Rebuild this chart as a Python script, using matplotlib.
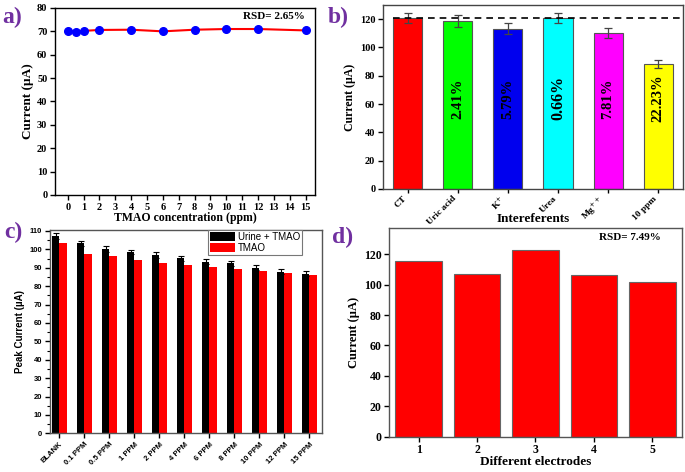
import matplotlib
matplotlib.use("Agg")
import matplotlib.pyplot as plt
import numpy as np
from matplotlib.patches import Patch
from matplotlib.ticker import MultipleLocator

# ---------------- data ----------------
# a) stability vs TMAO concentration
conc_a = [0, 0.5, 1, 2, 4, 6, 8, 10, 12, 15]
current_a = [70.3, 69.8, 70.2, 70.6, 70.7, 70.0, 70.7, 71.0, 71.0, 70.4]

# b) interferents
interf_labels = ["CT", "Uric acid", r"K$^{+}$", "Urea", r"Mg$^{++}$", "10 ppm"]
interf_current = [121, 118.8, 113.3, 121, 109.9, 88.1]
interf_err = [3.7, 4.0, 3.8, 3.7, 3.5, 2.8]
interf_pct = ["", "2.41%", "5.79%", "0.66%", "7.81%", "22.23%"]
interf_colors = ["#ff0000", "#00ff00", "#0000ee", "#00ffff", "#ff00ff", "#ffff00"]

# c) urine + TMAO vs TMAO
conc_labels_c = ["BLANK", "0.1 PPM", "0.5 PPM", "1 PPM", "2 PPM", "4 PPM",
                 "6 PPM", "8 PPM", "10 PPM", "12 PPM", "15 PPM"]
urine_tmao = [107.2, 103.3, 100.2, 98.6, 96.9, 95.1, 93.3, 92.4, 90.0, 87.9, 86.8]
urine_err = [1.5, 1.3, 1.4, 1.2, 1.4, 1.3, 1.2, 1.2, 1.3, 1.4, 1.3]
tmao_only = [103.3, 97.6, 96.3, 94.3, 92.8, 91.6, 90.3, 89.2, 88.2, 87.1, 85.8]

# d) reproducibility
electrodes = [1, 2, 3, 4, 5]
current_d = [115.2, 106.8, 122.9, 106.6, 101.8]

serif = "Liberation Serif"
sans = "Liberation Sans"
purple = "#7030a0"

fig = plt.figure(figsize=(6.85, 4.72), dpi=100)

def style_axes(ax, color="black"):
    ax.set_facecolor("none")
    for s in ax.spines.values():
        s.set_color(color)
        s.set_linewidth(1.0)
    ax.tick_params(direction="out", length=3.5, width=1.0, colors="black", pad=2)

# ---------- a ----------
ax_a = fig.add_axes([0.0803, 0.5869, 0.3796, 0.3962])
ax_a.plot(conc_a, current_a, color="#ff0000", lw=1.5, marker="o",
          markersize=5.5, markerfacecolor="#0000ff", markeredgecolor="#0000ff")
ax_a.set_xlim(-0.8, 15.6)
ax_a.set_ylim(0, 80)
ax_a.set_xticks(range(0, 16))
ax_a.set_yticks(range(0, 81, 10))
style_axes(ax_a)
for lab in ax_a.get_xticklabels() + ax_a.get_yticklabels():
    lab.set_fontfamily(serif); lab.set_fontweight("bold"); lab.set_fontsize(7.5)
ax_a.set_xlabel("TMAO concentration (ppm)", family=serif, weight="bold", fontsize=8.5)
ax_a.xaxis.set_label_coords(0.5, -0.09)
ax_a.set_ylabel("Current (µA)", family=serif, weight="bold", fontsize=9.5, labelpad=2)
ax_a.text(0.96, 0.953, "RSD= 2.65%", transform=ax_a.transAxes, ha="right", va="center",
          family=serif, weight="bold", fontsize=8)

# ---------- b ----------
ax_b = fig.add_axes([0.5591, 0.5996, 0.438, 0.3898])
xb = np.arange(len(interf_labels))
ax_b.bar(xb, interf_current, width=0.58, color=interf_colors, edgecolor="#555555", lw=0.8,
         yerr=interf_err, error_kw=dict(ecolor="#444444", elinewidth=0.9, capsize=3, capthick=0.9))
ax_b.plot([-0.29, 5.5], [121, 121], ls=(0, (4, 3)), color="black", lw=1.2)
for i, t in enumerate(interf_pct):
    if t:
        ax_b.text(xb[i], 64, t, rotation=90, ha="center", va="center", family=serif,
                  weight="bold", fontsize=11.5 if t == "0.66%" else 10.5)
ax_b.set_xlim(-0.5, 5.5)
ax_b.set_ylim(0, 130)
ax_b.set_yticks(range(0, 121, 20))
ax_b.set_xticks(xb)
ax_b.set_xticklabels(interf_labels, rotation=45, ha="right")
style_axes(ax_b, "#444444")
for lab in ax_b.get_yticklabels():
    lab.set_fontfamily(serif); lab.set_fontweight("bold"); lab.set_fontsize(7.5)
for lab in ax_b.get_xticklabels():
    lab.set_fontfamily(serif); lab.set_fontweight("bold"); lab.set_fontsize(6.8)
ax_b.tick_params(axis="x", pad=1, length=3)
ax_b.set_xlabel("Intereferents", family=serif, weight="bold", fontsize=9.5)
ax_b.xaxis.set_label_coords(0.5, -0.13)
ax_b.set_ylabel("Current (µA)", family=serif, weight="bold", fontsize=8.5, labelpad=3)

# ---------- c ----------
ax_c = fig.add_axes([0.073, 0.082, 0.3971, 0.4307])
xc = np.arange(len(conc_labels_c))
bw = 0.3
ax_c.bar(xc - bw / 2, urine_tmao, width=bw, color="black", yerr=urine_err,
         error_kw=dict(ecolor="black", elinewidth=0.8, capsize=2.5, capthick=0.8))
ax_c.bar(xc + bw / 2, tmao_only, width=bw, color="#ff0000")
ax_c.set_xlim(-0.37, 10.51)
ax_c.set_ylim(0, 110.5)
ax_c.set_yticks(range(0, 111, 10))
ax_c.yaxis.set_minor_locator(MultipleLocator(5))
ax_c.set_xticks(xc)
ax_c.set_xticklabels(conc_labels_c, rotation=45, ha="right", rotation_mode="anchor")
style_axes(ax_c, "#555555")
ax_c.tick_params(which="minor", direction="out", length=2, width=0.8)
for lab in ax_c.get_xticklabels() + ax_c.get_yticklabels():
    lab.set_fontfamily(sans); lab.set_fontweight("bold"); lab.set_fontsize(5.5)
ax_c.set_ylabel("Peak Current (µA)", family=sans, weight="bold", fontsize=7, labelpad=3)
leg = ax_c.legend(handles=[Patch(facecolor="black", label="Urine + TMAO"),
                           Patch(facecolor="#ff0000", label="TMAO")],
                  loc="upper right", bbox_to_anchor=(0.926, 1.0), borderaxespad=0,
                  prop=dict(family=sans, size=7), fancybox=False, edgecolor="#777777",
                  handlelength=2.6, handleheight=1.0, handletextpad=0.3, labelspacing=0.1,
                  borderpad=0.2, framealpha=1)
leg.get_frame().set_linewidth(0.8)

# ---------- d ----------
ax_d = fig.add_axes([0.5683, 0.0748, 0.4269, 0.4415])
ax_d.bar(electrodes, current_d, width=0.8, color="#ff0000", edgecolor="#666666", lw=0.8)
ax_d.set_xlim(0.5, 5.5)
ax_d.set_ylim(0, 137)
ax_d.set_yticks(range(0, 121, 20))
ax_d.set_xticks(electrodes)
style_axes(ax_d, "#555555")
for lab in ax_d.get_xticklabels() + ax_d.get_yticklabels():
    lab.set_fontfamily(serif); lab.set_fontweight("bold"); lab.set_fontsize(8.5)
ax_d.set_xlabel("Different electrodes", family=serif, weight="bold", fontsize=9.5)
ax_d.xaxis.set_label_coords(0.5, -0.095)
ax_d.set_ylabel("Current (µA)", family=serif, weight="bold", fontsize=9, labelpad=3)
ax_d.text(0.93, 0.955, "RSD= 7.49%", transform=ax_d.transAxes, ha="right", va="center",
          family=serif, weight="bold", fontsize=8)

# panel letters
for lbl, x, y in [("a)", 0.004, 0.985), ("b)", 0.479, 0.985), ("c)", 0.006, 0.53), ("d)", 0.485, 0.52)]:
    fig.text(x, y, lbl, ha="left", va="top", family=serif, weight="bold",
             fontsize=17, color=purple)

fig.savefig("out.png", dpi=100)
